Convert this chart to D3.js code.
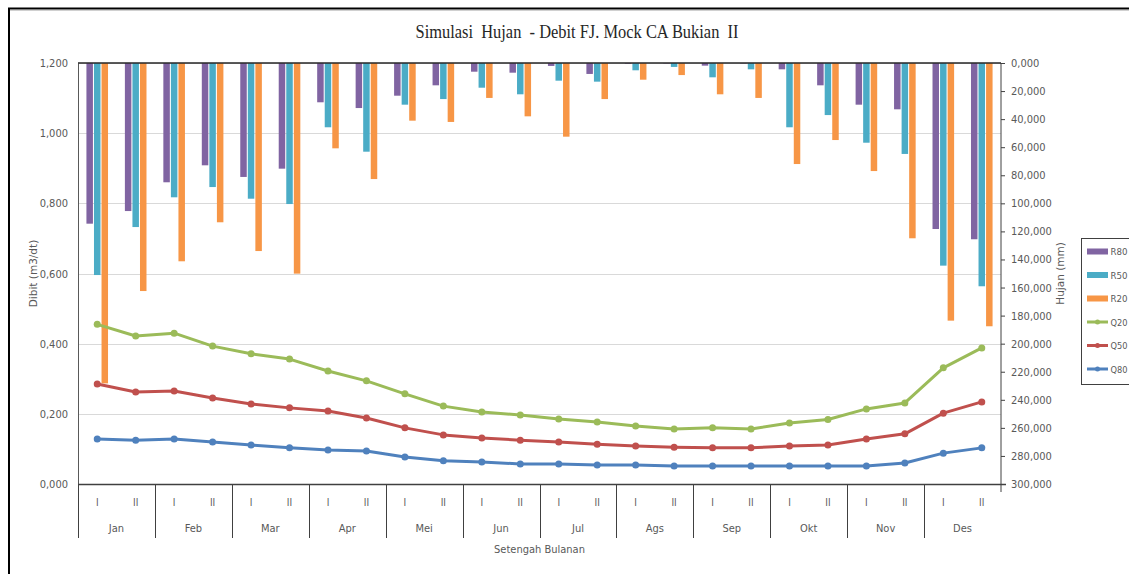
<!DOCTYPE html>
<html>
<head>
<meta charset="utf-8">
<script src="https://cdn.jsdelivr.net/npm/d3@7/dist/d3.min.js"></script>
<style>
  html, body { margin: 0; padding: 0; background: #ffffff; }
  svg { display: block; }
  text { font-family: "Liberation Sans Narrow", "DejaVu Sans Condensed", "Liberation Sans", sans-serif; fill: #595959; }
</style>
</head>
<body>
<svg id="chart" width="1129" height="574"></svg>
<script>
// ---------------- DATA ----------------
const months = ["Jan","Feb","Mar","Apr","Mei","Jun","Jul","Ags","Sep","Okt","Nov","Des"];
const halves = ["I","II"];
// Rainfall (mm), secondary axis (reversed)
const R80 = [114.5,105.5, 85.0,72.9, 81.2,75.3, 28.0,32.1, 23.3,15.9, 6.2,6.9, 2.1,7.8, 0.5,0.3, 1.9,0.3, 4.5,15.9, 29.7,33.0, 118.3,125.6];
const R50 = [151.1,116.9, 95.7,88.4, 96.7,100.5, 45.8,63.2, 29.7,25.7, 17.6,22.3, 12.6,13.3, 5.2,2.8, 10.2,4.5, 45.8,37.1, 56.8,64.8, 144.4,159.1];
const R20 = [228.3,162.5, 141.3,113.5, 134.0,150.1, 60.8,82.7, 41.1,42.0, 24.9,38.0, 52.5,25.7, 11.9,8.6, 22.3,24.9, 72.0,54.9, 77.0,124.9, 183.6,187.6];
// Discharge (m3/dt), primary axis
const Q20 = [0.455,0.422, 0.430,0.393, 0.371,0.356, 0.322,0.294, 0.257,0.222, 0.205,0.197, 0.185,0.177, 0.165,0.157, 0.160,0.157, 0.174,0.184, 0.214,0.231, 0.331,0.388];
const Q50 = [0.285,0.262, 0.265,0.245, 0.228,0.217, 0.208,0.188, 0.160,0.140, 0.131,0.125, 0.120,0.113, 0.108,0.105, 0.103,0.103, 0.108,0.111, 0.128,0.143, 0.202,0.234];
const Q80 = [0.128,0.125, 0.128,0.120, 0.111,0.103, 0.097,0.094, 0.077,0.066, 0.063,0.057, 0.057,0.054, 0.054,0.051, 0.051,0.051, 0.051,0.051, 0.051,0.060, 0.088,0.103];
const leftTicks = [0, 0.2, 0.4, 0.6, 0.8, 1.0, 1.2];
const rightTicks = [0,20,40,60,80,100,120,140,160,180,200,220,240,260,280,300];
const barSeries = ["R80","R50","R20"];
const lineSeries = ["Q20","Q50","Q80"];
const titleText = "Simulasi  Hujan  - Debit FJ. Mock CA Bukian  II";

// ---------------- LAYOUT ----------------
const svg = d3.select("#chart");
const L = 78, R = 1001, T = 63, B = 484;
const colors = { R80:"#8064A2", R50:"#4BACC6", R20:"#F79646", Q20:"#9BBB59", Q50:"#C0504D", Q80:"#4F81BD" };
const barData = { R80, R50, R20 };
const lineData = { Q20, Q50, Q80 };

const cats = [];
months.forEach(m => halves.forEach(h => cats.push(m + "-" + h)));

const x = d3.scaleBand().domain(cats).range([L, R]).paddingInner(0).paddingOuter(0);
const xm = d3.scaleBand().domain(months).range([L, R]);
const sub = d3.scaleBand().domain(barSeries).range([0, 21.6]).paddingInner(0.14);
const yL = d3.scaleLinear().domain([0, 1.2]).range([B, T]);
const yR = d3.scaleLinear().domain([0, 300]).range([T, B]);

const fmt3 = v => d3.format(".3f")(v).replace(".", ",");

// outer frame
svg.append("path").attr("d", `M9,580 V8.5 H1140`).attr("fill","none").attr("stroke","#000").attr("stroke-width",2);
svg.append("line").attr("x1",10).attr("x2",1140).attr("y1",10.5).attr("y2",10.5).attr("stroke","#d0d0d0").attr("stroke-width",1);

// title
svg.append("text").attr("x", 577).attr("y", 38).attr("text-anchor","middle")
  .attr("textLength", 323).attr("lengthAdjust","spacingAndGlyphs")
  .style("white-space","pre")
  .style("font-family","'Liberation Serif','DejaVu Serif',serif").style("font-size","18px").style("fill","#262626")
  .text(titleText);

// gridlines
svg.append("g").selectAll("line").data(leftTicks.filter(d => d > 0)).join("line")
  .attr("x1", L).attr("x2", R).attr("y1", d => Math.round(yL(d)) + 0.5).attr("y2", d => Math.round(yL(d)) + 0.5)
  .attr("stroke", "#d9d9d9").attr("stroke-width", 1);

// left axis
const gL = svg.append("g").attr("transform", `translate(${L},0)`)
  .call(d3.axisLeft(yL).tickValues(leftTicks).tickFormat(fmt3).tickSize(0).tickPadding(10));
gL.select(".domain").attr("stroke","#595959");
gL.selectAll("text").style("font-size","11px").style("fill","#595959").style("font-family", null);

// right axis
const gR = svg.append("g").attr("transform", `translate(${R},0)`)
  .call(d3.axisRight(yR).tickValues(rightTicks).tickFormat(fmt3).tickSize(4).tickPadding(6));
gR.select(".domain").attr("stroke","#404040").attr("d", `M0,${T}V${B+8}`);
gR.selectAll(".tick line").attr("stroke","#404040");
gR.selectAll("text").style("font-size","11px").style("fill","#595959").style("font-family", null);

// bars (hanging from top, reversed axis)
const gb = svg.append("g");
barSeries.forEach(s => {
  gb.append("g").selectAll("rect").data(barData[s]).join("rect")
    .attr("x", (d, i) => x(cats[i]) + x.bandwidth()/2 - 10.8 + sub(s))
    .attr("y", yR(0))
    .attr("width", sub.bandwidth())
    .attr("height", d => yR(d) - yR(0))
    .attr("fill", colors[s]);
});

// top and bottom axis lines
svg.append("line").attr("x1", L).attr("x2", R).attr("y1", T).attr("y2", T).attr("stroke","#262626").attr("stroke-width",1.3);
svg.append("line").attr("x1", L).attr("x2", R + 5).attr("y1", B + 0.5).attr("y2", B + 0.5).attr("stroke","#404040").attr("stroke-width",1.5);

// lines
const lineGen = d3.line().x((d, i) => x(cats[i]) + x.bandwidth()/2).y(d => yL(d));
lineSeries.forEach(s => {
  const g = svg.append("g");
  g.append("path").datum(lineData[s]).attr("d", lineGen).attr("fill","none")
    .attr("stroke", colors[s]).attr("stroke-width", 3).attr("stroke-linejoin","round");
  g.selectAll("circle").data(lineData[s]).join("circle")
    .attr("cx", (d, i) => x(cats[i]) + x.bandwidth()/2).attr("cy", d => yL(d)).attr("r", 3.5)
    .attr("fill", colors[s]);
});

// category axis: half-month labels
svg.append("g").selectAll("text").data(cats).join("text")
  .attr("x", d => x(d) + x.bandwidth()/2).attr("y", 506).attr("text-anchor","middle")
  .style("font-size","10px").text(d => d.split("-")[1]);
// month labels
svg.append("g").selectAll("text").data(months).join("text")
  .attr("x", d => xm(d) + xm.bandwidth()/2).attr("y", 532).attr("text-anchor","middle")
  .style("font-size","11px").text(d => d);
// month separators
svg.append("g").selectAll("line").data(months).join("line")
  .attr("x1", d => Math.round(xm(d)) + 0.5).attr("x2", d => Math.round(xm(d)) + 0.5)
  .attr("y1", B).attr("y2", 538).attr("stroke","#404040").attr("stroke-width",1);

// axis titles
svg.append("text").attr("x", (L + R)/2).attr("y", 553).attr("text-anchor","middle")
  .style("font-size","11px").text("Setengah Bulanan");
svg.append("text").attr("transform", `translate(37,${(T + B)/2}) rotate(-90)`).attr("text-anchor","middle")
  .style("font-family","'DejaVu Sans','Liberation Sans',sans-serif").style("font-size","10.5px").text("Dibit (m3/dt)");
svg.append("text").attr("transform", `translate(1064,${(T + B)/2}) rotate(-90)`).attr("text-anchor","middle")
  .style("font-family","'DejaVu Sans','Liberation Sans',sans-serif").style("font-size","10.5px").text("Hujan (mm)");

// legend
const lg = svg.append("g");
lg.append("rect").attr("x", 1081.5).attr("y", 238.5).attr("width", 70).attr("height", 146)
  .attr("fill","#fff").attr("stroke","#404040").attr("stroke-width",1);
const legendItems = barSeries.concat(lineSeries);
legendItems.forEach((s, i) => {
  const cy = 251.5 + i * 23.5;
  if (barSeries.includes(s)) {
    lg.append("rect").attr("x", 1087).attr("y", cy - 3).attr("width", 21).attr("height", 6).attr("fill", colors[s]);
  } else {
    lg.append("line").attr("x1", 1087).attr("x2", 1108).attr("y1", cy).attr("y2", cy).attr("stroke", colors[s]).attr("stroke-width", 3);
    lg.append("circle").attr("cx", 1097.5).attr("cy", cy).attr("r", 2.5).attr("fill", colors[s]);
  }
  lg.append("text").attr("x", 1110.5).attr("y", cy + 3.5)
    .attr("textLength", 17).attr("lengthAdjust","spacingAndGlyphs")
    .style("font-size","9.5px").text(s);
});
</script>
</body>
</html>
